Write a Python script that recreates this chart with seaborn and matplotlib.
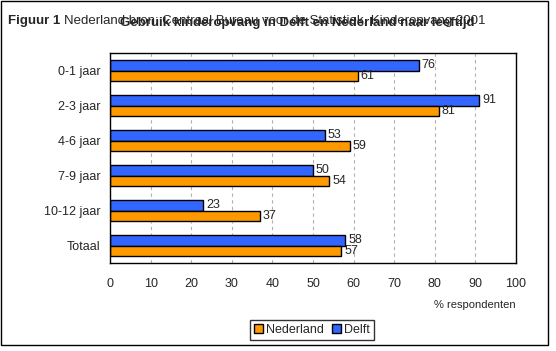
import matplotlib
matplotlib.use("Agg")
import matplotlib.pyplot as plt
import seaborn as sns
import pandas as pd
from matplotlib.patches import Rectangle, Patch

categories = ["0-1 jaar", "2-3 jaar", "4-6 jaar", "7-9 jaar", "10-12 jaar", "Totaal"]
delft = [76, 91, 53, 50, 23, 58]
nederland = [61, 81, 59, 54, 37, 57]
series = ["Delft", "Nederland"]
colors = {"Delft": "#3366FF", "Nederland": "#FF9900"}

df = pd.DataFrame({
    "cat": categories * 2,
    "val": delft + nederland,
    "serie": ["Delft"] * len(categories) + ["Nederland"] * len(categories),
})

sns.set_style("white")
plt.rcParams["font.family"] = ["Liberation Sans", "DejaVu Sans"]

W, H = 556, 351
fig = plt.figure(figsize=(W / 100, H / 100), dpi=100)
ax = fig.add_axes([110 / W, 1 - 263 / H, (516 - 110) / W, (263 - 53) / H])

sns.barplot(data=df, x="val", y="cat", hue="serie", hue_order=series, order=categories,
            palette=colors, orient="y", width=0.6, edgecolor="black", linewidth=1,
            saturation=1, ax=ax, legend=False)

for cont in ax.containers:
    ax.bar_label(cont, fmt="%d", padding=2, fontsize=9)

ax.set_xlim(0, 100)
ax.set_xticks(range(0, 101, 10))
ax.set_ylim(len(categories) - 0.5, -0.5)
ax.set_yticks(range(len(categories)))
ax.set_yticklabels(categories)
ax.set_yticks([i - 0.5 for i in range(len(categories) + 1)], minor=True)
ax.tick_params(axis="y", which="major", length=0, pad=7, labelsize=9)
ax.tick_params(axis="y", which="minor", length=4, direction="out", width=1, color="black")
ax.tick_params(axis="x", length=4, direction="out", width=1, color="black", labelsize=9, pad=7)
ax.xaxis.grid(True, linestyle=(0, (3, 3)), color="#b0b0b0", linewidth=0.8)
ax.set_axisbelow(True)
for s in ax.spines.values():
    s.set_visible(True)
    s.set_color("black")
    s.set_linewidth(1)
ax.set_xlabel("")
ax.set_ylabel("")

fig.text(516 / W, 1 - 305 / H, "% respondenten", ha="right", va="center", fontsize=8)

handles = [Patch(facecolor=colors["Nederland"], edgecolor="black"),
           Patch(facecolor=colors["Delft"], edgecolor="black")]
leg = fig.legend(handles, ["Nederland", "Delft"], loc="center", bbox_to_anchor=(312 / W, 1 - 330 / H),
                 ncol=2, fontsize=9, frameon=True, fancybox=False, handlelength=0.7, handleheight=0.7,
                 handletextpad=0.3, columnspacing=0.6, borderpad=0.3)
leg.get_frame().set_edgecolor("black")
leg.get_frame().set_linewidth(1)

fig.text(8 / W, 1 - 21 / H, "Figuur 1", ha="left", va="center", fontsize=9.5, fontweight="bold")
fig.text(64 / W, 1 - 21 / H, "Nederland bron: Centraal Bureau voor de Statistiek, Kinderopvang 2001",
         ha="left", va="center", fontsize=9.5)
fig.text(297 / W, 1 - 23 / H, "Gebruik kinderopvang in Delft en Nederland naar leeftijd",
         ha="center", va="center", fontsize=9.5, fontweight="bold")

fig.patches.append(Rectangle((1 / W, 1 - 345 / H), 547 / W, 344 / H, transform=fig.transFigure,
                             fill=False, edgecolor="black", linewidth=1))

fig.savefig("out.png", dpi=100)
